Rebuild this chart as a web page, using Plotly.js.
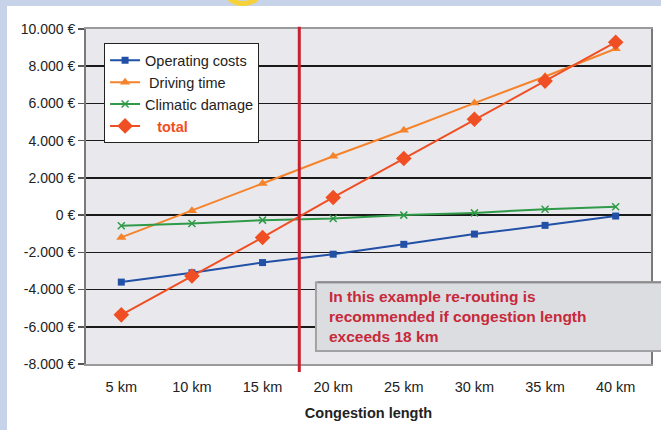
<!DOCTYPE html>
<html>
<head>
<meta charset="utf-8">
<script src="https://cdn.plot.ly/plotly-3.0.1.min.js"></script>
<style>
  html, body { margin: 0; padding: 0; }
  body { width: 661px; height: 430px; background: #c6d3e8; position: relative; overflow: hidden; }
  #ring { position: absolute; left: 219px; top: -42px; width: 38px; height: 38px; border: 5px solid #f6d23a; border-radius: 50%; }
  #chart { position: absolute; left: 7px; top: 6px; width: 654px; height: 424px; background: #fff; }
</style>
</head>
<body>
<div id="ring"></div>
<div id="chart"></div>
<script>
const categories = ["5 km", "10 km", "15 km", "20 km", "25 km", "30 km", "35 km", "40 km"];
const operatingCosts = [-3600, -3100, -2550, -2100, -1570, -1020, -550, -50];
const drivingTime = [-1200, 230, 1700, 3160, 4560, 6020, 7450, 8940];
const climaticDamage = [-570, -450, -270, -180, 0, 120, 320, 450];
const total = [-5360, -3270, -1200, 950, 3040, 5150, 7200, 9290];
const yTickVals = [10000, 8000, 6000, 4000, 2000, 0, -2000, -4000, -6000, -8000];
const yTickText = ["10.000 €", "8.000 €", "6.000 €", "4.000 €", "2.000 €", "0 €", "-2.000 €", "-4.000 €", "-6.000 €", "-8.000 €"];
const thresholdPos = 2.52;
const noteText = "In this example re-routing is<br>recommended if congestion length<br>exceeds 18 km";

const traces = [
  { x: categories, y: operatingCosts, name: "Operating costs", type: "scatter", mode: "lines+markers",
    line: { color: "#2150a6", width: 2 }, marker: { symbol: "square", size: 7, color: "#2150a6" } },
  { x: categories, y: drivingTime, name: "&nbsp;Driving time", type: "scatter", mode: "lines+markers",
    line: { color: "#f5832b", width: 2 }, marker: { symbol: "triangle-up", size: 9, color: "#f5832b" } },
  { x: categories, y: climaticDamage, name: "Climatic damage", type: "scatter", mode: "lines+markers",
    line: { color: "#2f9a48", width: 2 }, marker: { symbol: "x-thin", size: 7, color: "#2f9a48", line: { color: "#2f9a48", width: 1.5 } } },
  { x: categories, y: total, name: "&nbsp;&nbsp;&nbsp;<b><span style='color:#f04e23'>total</span></b>", type: "scatter", mode: "lines+markers",
    line: { color: "#f04e23", width: 2 }, marker: { symbol: "diamond", size: 12, color: "#f04e23" } }
];

const layout = {
  width: 654, height: 424,
  margin: { l: 79, r: 10, t: 22.5, b: 66 },
  paper_bgcolor: "#ffffff",
  plot_bgcolor: "#e9e9ed",
  font: { family: "Liberation Sans, Arial, sans-serif", size: 13, color: "#222" },
  showlegend: true,
  legend: {
    x: 0.032, y: 0.957, xanchor: "left", yanchor: "top",
    bgcolor: "#ffffff", bordercolor: "#222", borderwidth: 1,
    font: { size: 14.5, color: "#222" }
  },
  xaxis: {
    type: "category", range: [-0.5, 7.5],
    showgrid: false, zeroline: false,
    showline: true, linecolor: "#9a9a9a", linewidth: 2, mirror: true,
    ticks: "", ticklabelstandoff: 9, tickfont: { size: 14.5, color: "#222" },
    title: { text: "<b>Congestion length</b>", font: { size: 14.5, color: "#222" }, standoff: 13 }
  },
  yaxis: {
    range: [-8000, 10000], tickvals: yTickVals, ticktext: yTickText,
    showgrid: true, gridcolor: "#1a1a1a", gridwidth: 1.5,
    zeroline: true, zerolinecolor: "#1a1a1a", zerolinewidth: 1.5,
    showline: true, linecolor: "#7a7a7a", linewidth: 2, mirror: true,
    ticks: "outside", ticklen: 6, tickcolor: "#555", tickwidth: 1.5,
    tickfont: { size: 14, color: "#222" }
  },
  shapes: [
    { type: "rect", xref: "paper", yref: "paper", x0: 0.407, x1: 1.1, y0: 0.0387, y1: 0.2444,
      fillcolor: "#dcdde0", line: { color: "#a2a2a4", width: 2 }, layer: "above" },
    { type: "line", xref: "paper", yref: "paper", x0: 0.41, x1: 1.1, y0: 0.2444, y1: 0.2444,
      line: { color: "#8c8c8e", width: 2 }, layer: "above" },
    { type: "line", xref: "x", yref: "paper", x0: thresholdPos, x1: thresholdPos, y0: -0.024, y1: 1.007,
      line: { color: "#c8202e", width: 3 }, layer: "above" }
  ],
  annotations: [
    { xref: "paper", yref: "paper", x: 0.4265, y: 0.143, xanchor: "left", yanchor: "middle", align: "left",
      showarrow: false, text: "<b>" + noteText + "</b>", font: { size: 15.5, color: "#c8283a" } }
  ]
};

Plotly.newPlot("chart", traces, layout, { displayModeBar: false, staticPlot: true });
</script>
</body>
</html>
